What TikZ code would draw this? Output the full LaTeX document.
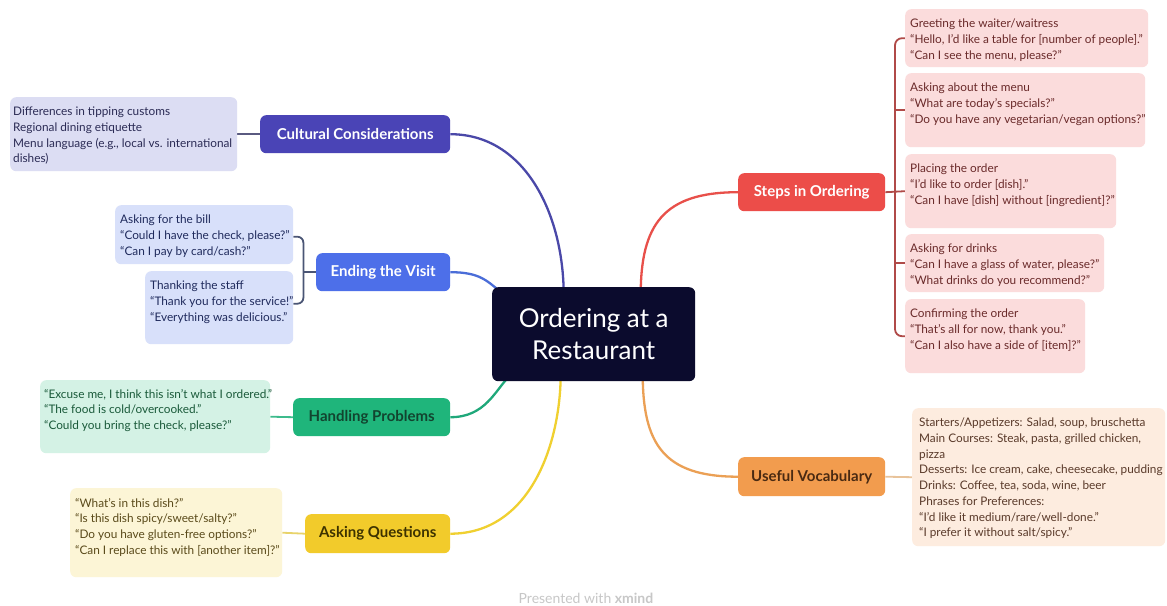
\documentclass[tikz,border=0pt]{standalone}
\usepackage{fontspec}
\setmainfont{Lato}
\usetikzlibrary{calc}
\pgfdeclarelayer{bg}
\pgfsetlayers{bg,main}
\definecolor{centerfill}{HTML}{0B0B2D}
\definecolor{ccfill}{HTML}{4A44B6}\definecolor{ccleaf}{HTML}{DCDDF3}\definecolor{cctext}{HTML}{2B2B55}\definecolor{ccline}{HTML}{4A48A8}\definecolor{ccsub}{HTML}{5A5A80}
\definecolor{evfill}{HTML}{4D6FE9}\definecolor{evleaf}{HTML}{D8E0FA}\definecolor{evtext}{HTML}{1F2A5C}\definecolor{evline}{HTML}{4A6DD8}\definecolor{evsub}{HTML}{4A5575}
\definecolor{hpfill}{HTML}{1FB57B}\definecolor{hpleaf}{HTML}{D4F2E5}\definecolor{hptext}{HTML}{1A5A3A}\definecolor{hpline}{HTML}{1FA87A}\definecolor{hpsub}{HTML}{3DBB8C}\definecolor{hpttext}{HTML}{12442F}
\definecolor{aqfill}{HTML}{F2CB2B}\definecolor{aqleaf}{HTML}{FCF5D6}\definecolor{aqtext}{HTML}{5A4A1A}\definecolor{aqline}{HTML}{F0D030}\definecolor{aqsub}{HTML}{E8D36A}\definecolor{aqttext}{HTML}{3D3200}
\definecolor{sofill}{HTML}{EC4D49}\definecolor{soleaf}{HTML}{FBDCDC}\definecolor{sotext}{HTML}{6A2A2A}\definecolor{soline}{HTML}{E8504A}\definecolor{sosub}{HTML}{B04A48}
\definecolor{uvfill}{HTML}{F29C4E}\definecolor{uvleaf}{HTML}{FDECDF}\definecolor{uvtext}{HTML}{5A3A2A}\definecolor{uvline}{HTML}{EBA055}\definecolor{uvsub}{HTML}{E8C39A}\definecolor{uvttext}{HTML}{4A2A12}
\begin{document}
\begin{tikzpicture}[x=1pt,y=-1pt,
  topicbox/.style={rounded corners=6pt, inner sep=0pt, anchor=north west, font=\fontsize{15}{18}\selectfont\bfseries},
  leafbox/.style={rounded corners=6pt, inner sep=0pt, anchor=north west},
  leaftext/.style={anchor=north west, inner sep=0pt, align=left, font=\fontsize{11.8}{15.7}\selectfont},
  mainconn/.style={line width=2.3pt},
  subconn/.style={line width=1.8pt}]
\useasboundingbox (0,0) rectangle (1167,605);

% center
\node[rounded corners=6pt, inner sep=0pt, anchor=north west, fill=centerfill, minimum width=203pt, minimum height=94pt, text=white, align=center, font=\fontsize{26}{32.5}\selectfont] (center) at (492,287) {Ordering at a\\Restaurant};

% topics
\node[topicbox, fill=ccfill, minimum width=190pt, minimum height=38pt, text=white] (cc) at (260,115) {Cultural Considerations};
\node[topicbox, fill=evfill, minimum width=134pt, minimum height=38pt, text=white] (ev) at (316,253) {Ending the Visit};
\node[topicbox, fill=hpfill, minimum width=157pt, minimum height=38pt, text=hpttext] (hp) at (293,398) {Handling Problems};
\node[topicbox, fill=aqfill, minimum width=145pt, minimum height=39pt, text=aqttext] (aq) at (305,514) {Asking Questions};
\node[topicbox, fill=sofill, minimum width=147pt, minimum height=38pt, text=white] (so) at (738,173) {Steps in Ordering};
\node[topicbox, fill=uvfill, minimum width=147pt, minimum height=39pt, text=uvttext] (uv) at (738,457) {Useful Vocabulary};

% leaves: cultural
\node[leafbox, fill=ccleaf, minimum width=227pt, minimum height=74pt] (cl) at (10,97) {};
\node[leaftext, text=cctext] (clt) at (13,107) {Differences in tipping customs\\Regional dining etiquette\\Menu language (e.g., local vs. international\\dishes)};
% ending
\node[leafbox, fill=evleaf, minimum width=178pt, minimum height=59pt] (e1) at (115,205) {};
\node[leaftext, text=evtext] (e1t) at (120,215) {Asking for the bill\\“Could I have the check, please?”\\“Can I pay by card/cash?”};
\node[leafbox, fill=evleaf, minimum width=148pt, minimum height=73pt] (e2) at (145,271) {};
\node[leaftext, text=evtext] (e2t) at (150,281) {Thanking the staff\\“Thank you for the service!”\\“Everything was delicious.”};
% handling
\node[leafbox, fill=hpleaf, minimum width=230pt, minimum height=73pt] (hl) at (40,380) {};
\node[leaftext, text=hptext] (hlt) at (44,389) {“Excuse me, I think this isn’t what I ordered.”\\“The food is cold/overcooked.”\\“Could you bring the check, please?”};
% asking
\node[leafbox, fill=aqleaf, minimum width=212pt, minimum height=89pt] (al) at (70,488) {};
\node[leaftext, text=aqtext] (alt) at (75,498) {“What’s in this dish?”\\“Is this dish spicy/sweet/salty?”\\“Do you have gluten-free options?”\\“Can I replace this with [another item]?”};
% steps
\node[leafbox, fill=soleaf, minimum width=243pt, minimum height=58pt] (s1) at (905,9) {};
\node[leaftext, text=sotext] (s1t) at (910,19) {Greeting the waiter/waitress\\“Hello, I’d like a table for [number of people].”\\“Can I see the menu, please?”};
\node[leafbox, fill=soleaf, minimum width=240pt, minimum height=74pt] (s2) at (905,73) {};
\node[leaftext, text=sotext] (s2t) at (910,83) {Asking about the menu\\“What are today’s specials?”\\“Do you have any vegetarian/vegan options?”};
\node[leafbox, fill=soleaf, minimum width=211pt, minimum height=74pt] (s3) at (905,154) {};
\node[leaftext, text=sotext] (s3t) at (910,164) {Placing the order\\“I’d like to order [dish].”\\“Can I have [dish] without [ingredient]?”};
\node[leafbox, fill=soleaf, minimum width=199pt, minimum height=58pt] (s4) at (905,234) {};
\node[leaftext, text=sotext] (s4t) at (910,244) {Asking for drinks\\“Can I have a glass of water, please?”\\“What drinks do you recommend?”};
\node[leafbox, fill=soleaf, minimum width=180pt, minimum height=74pt] (s5) at (905,299) {};
\node[leaftext, text=sotext] (s5t) at (910,309) {Confirming the order\\“That’s all for now, thank you.”\\“Can I also have a side of [item]?”};
% vocab
\node[leafbox, fill=uvleaf, minimum width=253pt, minimum height=138pt] (vl) at (912,408) {};
\node[leaftext, text=uvtext] (vlt) at (919,418) {Starters/Appetizers: Salad, soup, bruschetta\\Main Courses: Steak, pasta, grilled chicken,\\pizza\\Desserts: Ice cream, cake, cheesecake, pudding\\Drinks: Coffee, tea, soda, wine, beer\\Phrases for Preferences:\\“I’d like it medium/rare/well-done.”\\“I prefer it without salt/spicy.”};

% footer
\node[inner sep=0pt, text=black!22, font=\fontsize{14}{16}\selectfont] (footer) at (586,598) {Presented with \textbf{xmind}};

\begin{pgfonlayer}{bg}
\fill[white] (0,0) rectangle (1167,605);
% main connectors
\draw[mainconn, ccline] (cc.east) .. controls +(75,0) and +(0,-80) .. ($(center.north)+(-30,8)$);
\draw[mainconn, evline] (ev.east) .. controls +(30,0) and +(-15,-12) .. ($(center.north west)+(10,6)$);
\draw[mainconn, hpline] (hp.east) .. controls +(35,0) and +(-15,15) .. ($(center.south west)+(18,-6)$);
\draw[mainconn, aqline] (aq.east) .. controls +(80,0) and +(0,70) .. ($(center.south)+(-33,-8)$);
\draw[mainconn, soline] (so.west) .. controls +(-75,0) and +(0,-70) .. ($(center.north)+(47,8)$);
\draw[mainconn, uvline] (uv.west) .. controls +(-75,0) and +(0,70) .. ($(center.south)+(49,-8)$);
% leaf connectors
\draw[subconn, ccsub] (cl.east) -- (cc.west);
\draw[subconn, hpsub] (hl.east) -- (hp.west);
\draw[subconn, aqsub] (al.east) -- (aq.west);
\draw[subconn, uvsub] (vl.west) -- (uv.east);
\draw[subconn, evsub, rounded corners=6pt] ($(e1.east)+(0,2)$) -- ++(10,0) -- ($(e2.east)+(10,-4)$) -- ($(e2.east)+(0,-4)$);
\draw[subconn, evsub] (ev.west) -- ++(-13,0);
\draw[subconn, sosub, rounded corners=7pt] (s1.west) -- ++(-10,0) -- ($(s5.west)+(-10,0)$) -- (s5.west);
\draw[subconn, sosub] (s2.west) -- ++(-10,0);
\draw[subconn, sosub] (s4.west) -- ++(-10,0);
\draw[subconn, sosub] (so.east) -- (s3.west);
\end{pgfonlayer}
\end{tikzpicture}
\end{document}
